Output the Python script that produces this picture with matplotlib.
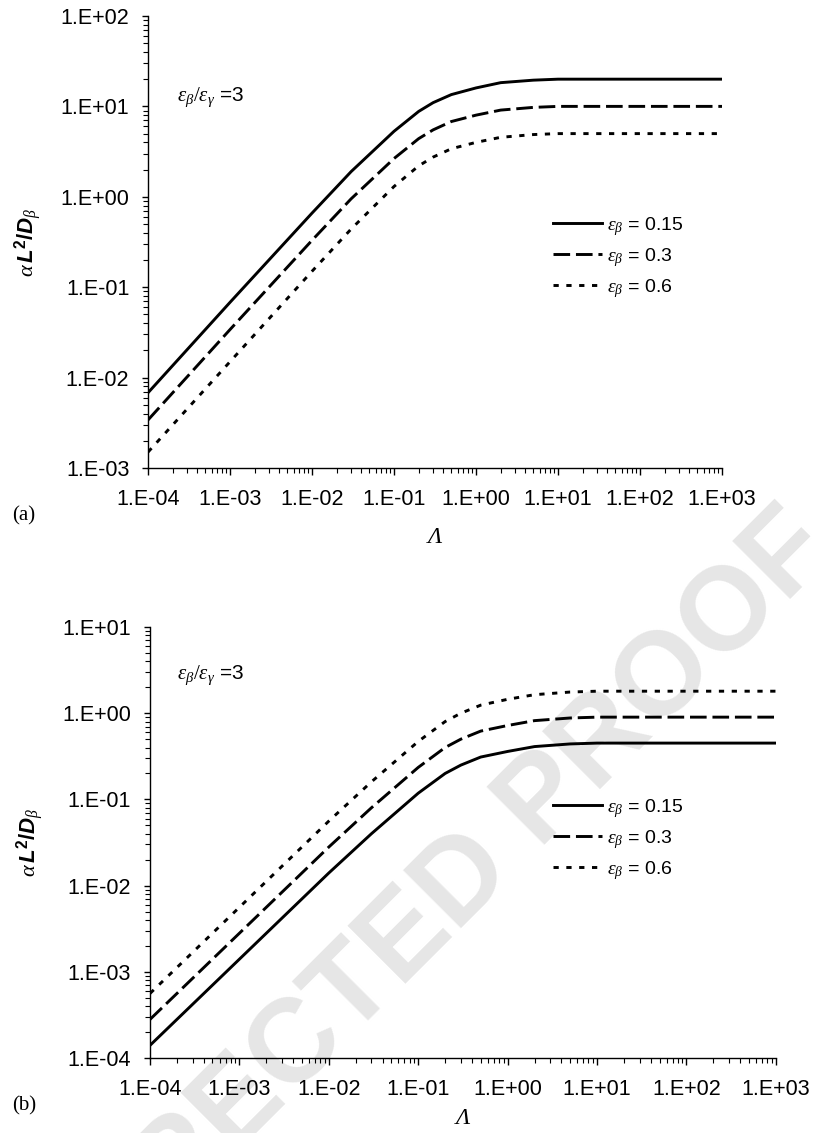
import numpy as np
import matplotlib
matplotlib.use("Agg")
import matplotlib.pyplot as plt
from matplotlib.ticker import LogLocator, FuncFormatter, NullFormatter

plt.rcParams["font.family"] = ["Liberation Sans", "DejaVu Sans"]
plt.rcParams["mathtext.fontset"] = "custom"
plt.rcParams["mathtext.rm"] = "Liberation Serif"
plt.rcParams["mathtext.it"] = "Liberation Serif:italic"
plt.rcParams["mathtext.bf"] = "Liberation Sans:bold"
plt.rcParams["mathtext.sf"] = "Liberation Sans"
try:
    plt.rcParams["mathtext.bfit"] = "Liberation Sans:italic:bold"
except KeyError:
    pass

# Lambda values where the curves were read
lam = [1e-4, 1e-3, 1e-2, 3e-2, 0.1, 0.2, 0.3, 0.5, 1, 2, 5, 10, 100, 1000]

# panel (a)
a_015 = [0.0068, 0.068, 0.66, 1.9, 5.3, 8.8, 11, 13.5, 16, 18.3, 19.5, 20, 20, 20]
a_03 = [0.0034, 0.034, 0.33, 0.95, 2.65, 4.4, 5.5, 6.8, 8, 9.1, 9.75, 10, 10, 10]
a_06 = [0.0015, 0.015, 0.15, 0.44, 1.3, 2.2, 2.75, 3.4, 4, 4.55, 4.88, 5, 5, 5]

# panel (b)
b_015 = [1.4e-4, 1.4e-3, 0.014, 0.04, 0.118, 0.2, 0.25, 0.31, 0.36, 0.41, 0.44, 0.45, 0.45, 0.45]
b_03 = [2.8e-4, 2.8e-3, 0.028, 0.08, 0.235, 0.4, 0.5, 0.62, 0.72, 0.82, 0.88, 0.9, 0.9, 0.9]
b_06 = [5.6e-4, 5.6e-3, 0.056, 0.16, 0.47, 0.8, 1.0, 1.24, 1.45, 1.64, 1.76, 1.8, 1.8, 1.8]

eps_labels = ["0.15", "0.3", "0.6"]
styles = [dict(ls="-"), dict(dashes=(5.7, 2.0)), dict(dashes=(1.8, 2.6))]


def excel_fmt(v, pos):
    return "1.E%+03d" % int(round(np.log10(v)))


def setup(ax, ylim, xpad):
    ax.set_xscale("log")
    ax.set_yscale("log")
    ax.set_xlim(1e-4, 1e3)
    ax.set_ylim(*ylim)
    ax.set_facecolor("none")
    for s in ["top", "right"]:
        ax.spines[s].set_visible(False)
    for s in ["left", "bottom"]:
        ax.spines[s].set_linewidth(1.0)
    for axis in [ax.xaxis, ax.yaxis]:
        axis.set_major_locator(LogLocator(base=10, numticks=20))
        axis.set_minor_locator(LogLocator(base=10, subs=np.arange(2, 10), numticks=20))
        axis.set_major_formatter(FuncFormatter(excel_fmt))
        axis.set_minor_formatter(NullFormatter())
    ax.tick_params(axis="x", which="major", direction="out", length=5, width=1, labelsize=15.5, pad=10)
    ax.tick_params(axis="x", which="minor", direction="out", length=3.5, width=0.8)
    ax.tick_params(axis="y", which="major", direction="out", length=4.5, width=1, labelsize=15.5, pad=9)
    ax.tick_params(axis="y", which="minor", direction="out", length=3.5, width=0.8)
    ax.set_xlabel("Λ", family="Liberation Serif", style="italic", fontsize=17, labelpad=xpad)
    ax.set_ylabel(r"$\alpha\,\mathbfit{L}^{\mathbf{2}}\mathbf{/}\mathbfit{D}_{\beta}$",
                  fontsize=16, labelpad=12)


fig = plt.figure(figsize=(8.15, 11.33), dpi=100)

# light proof watermark behind both panels
fig.text(0.405, 0.103, "UNCORRECTED PROOF", fontsize=85, fontweight="bold",
         color="#e6e6e6", rotation=45, rotation_mode="anchor",
         ha="center", va="center", zorder=-5)

ax1 = fig.add_axes([0.1816, 0.5869, 0.7043, 0.399])
ax2 = fig.add_axes([0.184, 0.0662, 0.768, 0.3804])

for ax, ys, ylim, xpad in [(ax1, [a_015, a_03, a_06], (1e-3, 1e2), 12),
                           (ax2, [b_015, b_03, b_06], (1e-4, 1e1), 6)]:
    setup(ax, ylim, xpad)
    for y, st, lab in zip(ys, styles, eps_labels):
        ax.plot(lam, y, color="black", lw=2.1, label=r"$\varepsilon_{\beta}$ = " + lab, **st)
    ax.text(0.05, 0.0, r"$\varepsilon_{\beta}/\varepsilon_{\gamma}$ =3", transform=ax.transAxes,
            fontsize=15)

ax1.texts[0].set_position((29 / 574, (468 - 101) / 452))
ax2.texts[0].set_position((27 / 626, (1058 - 679) / 431))

leg_kw = dict(frameon=False, fontsize=14, handlelength=2.5, handletextpad=0.3,
              labelspacing=0.42, borderpad=0, borderaxespad=0, loc="upper left")
ax1.legend(bbox_to_anchor=(0.7056, 0.56), **leg_kw)
ax2.legend(bbox_to_anchor=(0.644, 0.606), **leg_kw)

fig.text(24 / 815, 1 - 516 / 1133, "(a)", family="Liberation Serif", fontsize=15,
         ha="center", va="center")
fig.text(24 / 815, 1 - 1106 / 1133, "(b)", family="Liberation Serif", fontsize=15,
         ha="center", va="center")

fig.savefig("out.png", dpi=100)
